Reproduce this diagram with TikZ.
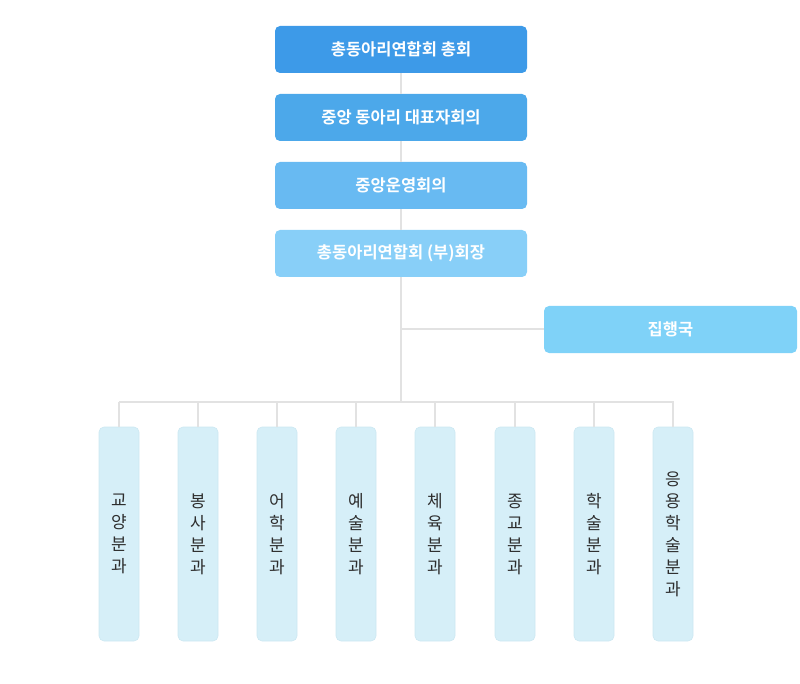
\documentclass[tikz,border=0pt]{standalone}
\usepackage{fontspec}
\newfontfamily\kr{Noto Sans CJK KR}
\newfontfamily\krb{Noto Sans CJK KR Bold}
\definecolor{cA}{HTML}{3D9AE8}
\definecolor{cB}{HTML}{4CA8EA}
\definecolor{cC}{HTML}{68BAF2}
\definecolor{cD}{HTML}{88CFF8}
\definecolor{cE}{HTML}{7FD2F8}
\definecolor{cF}{HTML}{D6EFF8}
\definecolor{cFb}{HTML}{CDE8F2}
\definecolor{ln}{HTML}{E2E2E2}
\definecolor{tx}{HTML}{2E2E2E}
\tikzset{
  topbox/.style={rounded corners=5pt, minimum width=252pt, minimum height=47pt, inner sep=0pt, text=white, font=\krb\fontsize{16.5}{18}\selectfont},
  subbox/.style={rounded corners=5pt, minimum width=40pt, minimum height=214pt, inner sep=0pt, fill=cF, draw=cFb, line width=0.6pt, text=tx, font=\kr\fontsize{17}{22}\selectfont, align=center},
  conn/.style={draw=ln, line width=2pt}
}
\begin{document}
\begin{tikzpicture}[x=1pt,y=-1pt]
\useasboundingbox (0,0) rectangle (800,684);
\coordinate (bus) at (401,402);
\coordinate (busL) at (119,402);
\coordinate (busR) at (674,402);
\node[topbox, fill=cA] (t1) at (401,49.5) {총동아리연합회 총회};
\node[topbox, fill=cB] (t2) at (401,117.5) {중앙 동아리 대표자회의};
\node[topbox, fill=cC] (t3) at (401,185.5) {중앙운영회의};
\node[topbox, fill=cD] (t4) at (401,253.5) {총동아리연합회 (부)회장};
\node[topbox, fill=cE, minimum width=253pt] (ex) at (670.5,329.5) {집행국};
\foreach \n/\x/\t in {s1/119/교\\양\\분\\과, s2/198/봉\\사\\분\\과, s3/277/어\\학\\분\\과, s4/356/예\\술\\분\\과, s5/435/체\\육\\분\\과, s6/515/종\\교\\분\\과, s7/594/학\\술\\분\\과, s8/673/응\\용\\학\\술\\분\\과}
  \node[subbox] (\n) at (\x,534) {\t};
\draw[conn] (t1.south) -- (t2.north);
\draw[conn] (t2.south) -- (t3.north);
\draw[conn] (t3.south) -- (t4.north);
\draw[conn] (t4.south) -- (bus);
\draw[conn] (t4.south |- ex.west) -- (ex.west);
\draw[conn] (busL) -- (busR);
\foreach \n in {s1,s2,s3,s4,s5,s6,s7,s8}
  \draw[conn] (\n.north |- bus) -- (\n.north);
\end{tikzpicture}
\end{document}
